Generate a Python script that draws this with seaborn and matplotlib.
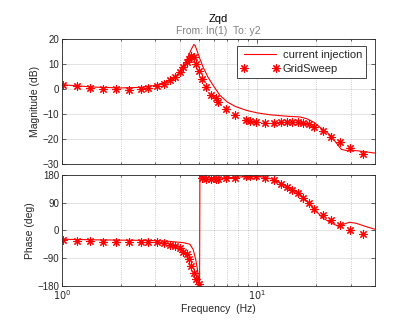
import numpy as np
import matplotlib
matplotlib.use("Agg")
import matplotlib.pyplot as plt
import seaborn as sns
from matplotlib.ticker import FixedLocator, NullFormatter

# --- data ---
# GridSweep measurement points (Hz, dB, deg)
sweep_freq = [1.016, 1.198, 1.39, 1.626, 1.888, 2.21, 2.55, 2.74, 3.05, 3.32,
              3.56, 3.78, 4.01, 4.17, 4.34, 4.46, 4.60, 4.72, 4.87, 5.03,
              5.21, 5.49, 5.82, 6.13, 6.28, 6.94, 7.66, 8.77, 9.12, 9.85,
              10.96, 12.17, 13.28, 14.2, 15.1, 16.1, 17.1, 18.3, 19.6, 21.6,
              23.9, 26.5, 29.9, 34.8]
sweep_mag = [1.7, 1.2, 0.7, 0.1, 0.0, -0.2, 0.2, 0.6, 1.4, 2.3,
             3.6, 5.0, 7.0, 8.8, 10.8, 12.3, 13.2, 13.0, 10.2, 7.3,
             4.2, 0.9, -2.3, -3.6, -5.0, -7.9, -10.4, -12.3, -12.5, -12.9,
             -13.3, -13.3, -13.2, -13.0, -12.9, -13.0, -13.3, -14.0, -14.9, -16.7,
             -18.9, -20.9, -23.3, -26.0]
sweep_phase = [-31.5, -33.5, -36, -37, -37, -37, -37, -37, -39, -42,
               -47, -51, -59, -69, -78, -94, -116, -140, -159, -176,
               169, 167, 166, 166, 167, 169, 171, 175, 176, 176,
               171, 162, 151, 142, 131, 120, 106, 88, 68, 50,
               34, 17, 2, -12]

# current injection curve
ci_freq_mag = [1.0, 1.2, 1.5, 2.0, 2.5, 3.0, 3.3, 3.6, 3.9, 4.1,
               4.3, 4.45, 4.6, 4.73, 4.8, 4.9, 5.07, 5.27, 5.58, 5.93,
               6.42, 7.0, 7.7, 8.8, 10.0, 11.5, 13.5, 14.6, 16.5, 18.0,
               19.5, 20.8, 23.4, 25.4, 26.9, 29.0, 32.0, 36.0, 40.0]
ci_mag = [1.9, 1.4, 0.9, 0.6, 0.8, 1.6, 2.6, 4.0, 6.0, 8.0,
          11.0, 13.6, 16.2, 18.0, 17.6, 15.7, 12.4, 9.0, 5.0, 1.7,
          -2.3, -5.0, -6.8, -8.4, -9.4, -10.1, -10.6, -10.8, -11.0, -11.8,
          -13.2, -15.0, -18.0, -21.5, -24.0, -24.6, -24.5, -25.0, -25.5]
ci_freq_phase = [1.0, 1.5, 2.0, 2.5, 3.0, 3.57, 4.17, 4.51, 4.69, 4.84,
                 4.94, 5.03, 5.06, 5.08, 5.3, 5.7, 6.2, 7.0, 8.0, 9.0,
                 10.0, 11.0, 12.0, 13.5, 15.0, 16.5, 18.0, 19.7, 21.7, 24.4,
                 26.3, 27.9, 29.6, 32.0, 36.0, 40.0]
ci_phase = [-29, -31, -32, -32.5, -33.5, -36, -40, -45, -62, -96,
            -129, -172, -180, 176, 173, 171, 170, 171, 173, 175,
            175, 172, 166, 150, 134, 118, 94, 66, 39, 21,
            12, 21, 26, 23, 12, 3.5]

mag_ticks = [-30, -20, -10, 0, 10, 20]
phase_ticks = [-180, -90, 0, 90, 180]

# --- style ---
sns.set_theme(style="ticks")
plt.rcParams['font.family'] = ['Liberation Sans', 'DejaVu Sans']
edge = (0.15, 0.15, 0.15)
red = (1.0, 0.0, 0.0)
star = (8, 2, 0)

fig = plt.figure(figsize=(4.15, 3.21), dpi=100)
ax1 = fig.add_axes([0.1494, 0.488, 0.7542, 0.389])
ax2 = fig.add_axes([0.1494, 0.110, 0.7542, 0.345])

sns.lineplot(x=ci_freq_mag, y=ci_mag, ax=ax1, color=red, lw=0.8,
             sort=False, estimator=None, label='current injection')
sns.lineplot(x=sweep_freq, y=sweep_mag, ax=ax1, color=red, linestyle='',
             marker=star, markersize=6, markeredgewidth=0.8, markeredgecolor=red,
             sort=False, estimator=None, label='GridSweep')

sns.lineplot(x=ci_freq_phase, y=ci_phase, ax=ax2, color=red, lw=0.8,
             sort=False, estimator=None, legend=False)
sns.lineplot(x=sweep_freq, y=sweep_phase, ax=ax2, color=red, linestyle='',
             marker=star, markersize=6, markeredgewidth=0.8, markeredgecolor=red,
             sort=False, estimator=None, legend=False)

minor_x = [2, 3, 4, 5, 6, 7, 8, 9, 20, 30]
for ax, lim, ticks in [(ax1, (-30, 20), mag_ticks), (ax2, (-180, 180), phase_ticks)]:
    ax.set_xscale('log')
    ax.set_xlim(1, 40)
    ax.set_ylim(*lim)
    ax.set_yticks(ticks)
    ax.xaxis.set_major_locator(FixedLocator([1, 10]))
    ax.xaxis.set_minor_locator(FixedLocator(minor_x))
    ax.xaxis.set_minor_formatter(NullFormatter())
    ax.grid(True, which='major', color=edge, alpha=0.15, lw=0.6)
    ax.grid(True, which='minor', axis='x', color=edge, alpha=0.3, lw=0.6, linestyle=':')
    ax.tick_params(which='both', direction='in', top=True, right=True,
                   color=edge, labelcolor=edge, labelsize=7, width=0.5)
    ax.tick_params(which='major', length=3, pad=2)
    ax.tick_params(which='minor', length=1.5)
    for s in ax.spines.values():
        s.set_color(edge)
        s.set_linewidth(0.6)
    ax.set_xlabel('')

ax1.set_xticklabels([])
ax2.set_xticklabels([r'$10^0$', r'$10^1$'])
ax1.set_ylabel('Magnitude (dB)', fontsize=7.5, color=edge, labelpad=2)
ax2.set_ylabel('Phase (deg)', fontsize=7.5, color=edge, labelpad=2)
ax2.set_xlabel('Frequency  (Hz)', fontsize=7.5, color=edge, labelpad=1)

handles, labels = ax1.get_legend_handles_labels()
leg = ax1.legend(handles, labels, loc='upper right', bbox_to_anchor=(0.971, 0.949),
                 borderaxespad=0, fontsize=8, numpoints=2, handlelength=3.5,
                 handletextpad=0.3, fancybox=False, framealpha=1, borderpad=0.35,
                 labelspacing=0.35)
leg.get_frame().set_edgecolor(edge)
leg.get_frame().set_linewidth(0.6)

cx = 0.1494 + 0.7542 / 2
fig.text(cx, 0.94, 'Zqd', ha='center', va='center', fontsize=8, color='black')
fig.text(cx, 0.903, 'From: In(1)  To: y2', ha='center', va='center', fontsize=7.5,
         color=(0.5, 0.5, 0.5))

fig.savefig('out.png', dpi=100)
